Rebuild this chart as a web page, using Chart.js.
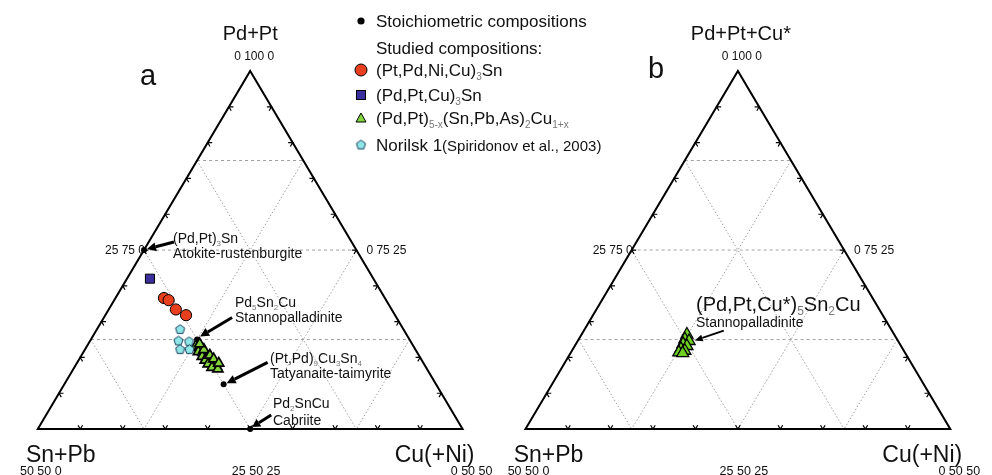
<!DOCTYPE html>
<html>
<head>
<meta charset="utf-8">
<script src="https://cdn.jsdelivr.net/npm/chart.js@4.4.1/dist/chart.umd.min.js"></script>
<style>
  html, body { margin: 0; padding: 0; background: #fff; }
  #wrap { position: relative; width: 992px; height: 475px; }
</style>
</head>
<body>
<div id="wrap"><canvas id="c" width="992" height="475"></canvas></div>
<script>
// Compositions in at.%, ordered [Sn+Pb, Pd+Pt, Cu(+Ni)]
// Diagram a: Pd+Pt vertex = 0 100 0, Sn+Pb vertex = 50 50 0, Cu vertex = 0 50 50

// stoichiometric compositions: (Pd,Pt)3Sn, Pd5Sn2Cu, (Pt,Pd)9Cu3Sn4, Pd2SnCu
const stoichA = [[25, 75, 0], [25, 62.5, 12.5], [25, 56.25, 18.75], [25, 50, 25]];
// (Pt,Pd,Ni,Cu)3Sn
const circlesA = [[26.0, 68.3, 5.7], [25.6, 68.0, 6.4], [25.4, 66.7, 7.9], [24.6, 65.9, 9.5]];
// (Pd,Pt,Cu)3Sn
const squaresA = [[26.3, 71.0, 2.7]];
// (Pd,Pt)5-x(Sn,Pb,As)2Cu1+x
const trianglesA = [
  [25.6, 61.6, 12.8], [25.3, 61.4, 13.3], [25.2, 61.1, 13.7], [25.7, 60.8, 13.5],
  [25.2, 60.7, 14.1], [25.1, 60.4, 14.5], [25.6, 60.2, 14.3], [25.1, 60.0, 14.9],
  [25.0, 59.8, 15.3], [25.5, 59.6, 14.9], [24.9, 59.5, 15.6], [24.8, 59.2, 16.0],
  [25.4, 59.1, 15.5], [24.7, 59.0, 16.4], [24.6, 58.7, 16.7], [25.2, 58.6, 16.2],
  [24.6, 58.4, 17.0], [24.9, 61.1, 14.0], [25.0, 61.9, 13.1], [24.6, 60.3, 15.1],
  [24.4, 59.8, 15.8], [24.1, 59.2, 16.7]
];
// Norilsk 1 (Spiridonov et al., 2003)
const norilskA = [[26.3, 63.9, 9.8], [27.3, 62.3, 10.4], [27.7, 61.1, 11.2], [26.1, 62.2, 11.7], [26.6, 61.1, 12.3]];

// Diagram b: Pd+Pt+Cu* recalculated
const stoichB = [[25, 62.5, 12.5]];
const trianglesB = [
  [24.4, 63.2, 12.4], [25.0, 62.6, 12.5], [24.6, 62.3, 13.1], [25.5, 61.9, 12.6],
  [25.2, 61.6, 13.2], [26.1, 61.2, 12.7], [25.8, 61.0, 13.3], [26.6, 60.7, 12.7],
  [26.2, 60.6, 13.2]
];

// vertex and mid-edge tick labels
const vertexLabels = { top: '0 100 0', left: '50 50 0', right: '0 50 50', bottom: '25 50 25', leftMid: '25 75 0', rightMid: '0 75 25' };

// ---- geometry helpers ----
const OFFSET_B = 496 / 432;          // horizontal shift of diagram b (in triangle base units)
const FAM = '"Liberation Sans", Arial, Helvetica, sans-serif';

// display fractions within the sub-triangle: s (Sn side), p (Pd apex), c (Cu side)
function frac(comp) {
  const t = comp[0] + comp[1] + comp[2];
  const sn = comp[0] / t * 100, pd = comp[1] / t * 100, cu = comp[2] / t * 100;
  return { s: sn / 50, p: (pd - 50) / 50, c: cu / 50 };
}
function toXY(comp, off) {
  const f = frac(comp);
  return { x: off + f.c + f.p / 2, y: f.p };
}
const pts = (arr, off) => arr.map(c => toXY(c, off));

// pentagon marker
function pentagon(r, fill, stroke) {
  const cv = document.createElement('canvas');
  const n = Math.ceil(r * 2 + 3);
  cv.width = n; cv.height = n;
  const g = cv.getContext('2d');
  g.beginPath();
  for (let i = 0; i < 5; i++) {
    const a = -Math.PI / 2 + i * 2 * Math.PI / 5;
    const px = n / 2 + r * Math.cos(a), py = n / 2 + r * Math.sin(a);
    i ? g.lineTo(px, py) : g.moveTo(px, py);
  }
  g.closePath();
  g.fillStyle = fill; g.fill();
  g.lineWidth = 1; g.strokeStyle = stroke; g.stroke();
  return cv;
}
const pentaImg = pentagon(4.8, '#8fe6e6', '#1d3f5e');

const RED = '#e8401f', BLUE = '#3a2f9c', GREEN = '#84d43c', GREEN_B = '#6fd022';

// rich text with subscripts; parts = [[text, isSub], ...]
function rich(ctx, x, y, parts, size, align) {
  const subSize = Math.round(size * 0.58);
  let w = 0;
  parts.forEach(([t, sub]) => { ctx.font = (sub ? subSize : size) + 'px ' + FAM; w += ctx.measureText(t).width; });
  let cx = align === 'center' ? x - w / 2 : x;
  ctx.textAlign = 'left';
  ctx.textBaseline = 'alphabetic';
  parts.forEach(([t, sub]) => {
    ctx.font = (sub ? subSize : size) + 'px ' + FAM;
    ctx.fillStyle = sub ? '#777' : '#111';
    ctx.fillText(t, cx, sub ? y + size * 0.22 : y);
    cx += ctx.measureText(t).width;
  });
}

function arrow(ctx, x1, y1, x2, y2, lw, hl, hw) {
  const ang = Math.atan2(y2 - y1, x2 - x1);
  const bx = x2 - hl * Math.cos(ang), by = y2 - hl * Math.sin(ang);
  ctx.save();
  ctx.strokeStyle = '#000'; ctx.fillStyle = '#000';
  ctx.lineWidth = lw; ctx.lineCap = 'butt';
  ctx.beginPath(); ctx.moveTo(x1, y1); ctx.lineTo(bx, by); ctx.stroke();
  ctx.beginPath();
  ctx.moveTo(x2, y2);
  ctx.lineTo(bx + hw * Math.sin(ang), by - hw * Math.cos(ang));
  ctx.lineTo(bx - hw * Math.sin(ang), by + hw * Math.cos(ang));
  ctx.closePath(); ctx.fill();
  ctx.restore();
}

// frame, grid, ticks and labels of the two ternary diagrams
const ternaryFrame = {
  id: 'ternaryFrame',
  beforeDatasetsDraw(chart) {
    const { ctx, scales: { x, y } } = chart;
    const P = (s, p, c, off) => ({ x: x.getPixelForValue(off + c + p / 2), y: y.getPixelForValue(p) });
    [0, OFFSET_B].forEach(off => {
      ctx.save();
      // dotted grid at 25 / 50 / 75 %
      ctx.strokeStyle = '#8a8a8a';
      ctx.lineWidth = 0.8;
      [0.25, 0.5, 0.75].forEach(k => {
        const segs = [
          [P(1 - k, k, 0, off), P(0, k, 1 - k, off), [3, 3]],
          [P(k, 1 - k, 0, off), P(k, 0, 1 - k, off), [1.5, 2]],
          [P(0, 1 - k, k, off), P(1 - k, 0, k, off), [1.5, 2]]
        ];
        segs.forEach(([a, b, d]) => {
          ctx.setLineDash(d);
          ctx.beginPath(); ctx.moveTo(a.x, a.y); ctx.lineTo(b.x, b.y); ctx.stroke();
        });
      });
      ctx.setLineDash([]);
      // triangle edges
      const A = P(0, 1, 0, off), L = P(1, 0, 0, off), R = P(0, 0, 1, off);
      ctx.strokeStyle = '#000'; ctx.lineWidth = 2; ctx.lineJoin = 'miter';
      ctx.beginPath(); ctx.moveTo(L.x, L.y); ctx.lineTo(A.x, A.y); ctx.lineTo(R.x, R.y); ctx.closePath(); ctx.stroke();
      // chevron ticks every 10 %
      const dir = (ds, dp, dc) => {
        const o = P(0, 0, 0, 0), t = P(ds, dp, dc, 0);
        const vx = t.x - o.x, vy = t.y - o.y, n = Math.hypot(vx, vy);
        return [vx / n, vy / n];
      };
      const tickLen = 4.5;
      ctx.lineWidth = 1.2;
      const chevron = (pt, d1, d2) => {
        ctx.beginPath();
        ctx.moveTo(pt.x + d1[0] * tickLen, pt.y + d1[1] * tickLen);
        ctx.lineTo(pt.x, pt.y);
        ctx.lineTo(pt.x + d2[0] * tickLen, pt.y + d2[1] * tickLen);
        ctx.stroke();
      };
      for (let i = 1; i <= 9; i++) {
        const t = i / 10;
        chevron(P(1 - t, 0, t, off), dir(0, 1, -1), dir(-1, 1, 0));   // base
        chevron(P(1 - t, t, 0, off), dir(-1, 0, 1), dir(0, -1, 1));   // left edge
        chevron(P(0, t, 1 - t, off), dir(1, 0, -1), dir(1, -1, 0));   // right edge
      }
      // numeric vertex labels
      ctx.fillStyle = '#111';
      ctx.font = '12px ' + FAM;
      ctx.textBaseline = 'middle';
      ctx.textAlign = 'center';
      ctx.fillText(vertexLabels.top, A.x + 4, A.y - 14);
      const Lm = P(0.5, 0.5, 0, off), Rm = P(0, 0.5, 0.5, off), Bm = P(0.5, 0, 0.5, off);
      ctx.textAlign = 'right';
      ctx.fillText(vertexLabels.leftMid, Lm.x + 1, Lm.y + 1);
      ctx.textAlign = 'left';
      ctx.fillText(vertexLabels.rightMid, Rm.x + 10, Rm.y + 1);
      ctx.font = '12.5px ' + FAM;
      ctx.textAlign = 'center'; ctx.textBaseline = 'top';
      ctx.fillText(vertexLabels.left, L.x + 3, 465);
      ctx.fillText(vertexLabels.bottom, Bm.x + 6, 465);
      ctx.fillText(vertexLabels.right, R.x + 9, 465);
      // component names
      ctx.font = '23px ' + FAM; ctx.textBaseline = 'alphabetic';
      ctx.fillText('Sn+Pb', L.x + 23, 462);
      ctx.fillText('Cu(+Ni)', R.x - 28, 462);
      ctx.restore();
    });
    // apex names and panel letters
    ctx.save();
    ctx.fillStyle = '#111';
    ctx.textAlign = 'center'; ctx.textBaseline = 'alphabetic';
    ctx.font = '20px ' + FAM;
    const Aa = P(0, 1, 0, 0), Ab = P(0, 1, 0, OFFSET_B);
    ctx.fillText('Pd+Pt', Aa.x, 40);
    ctx.fillText('Pd+Pt+Cu*', Ab.x + 3, 40);
    ctx.font = '29px ' + FAM;
    ctx.textAlign = 'left';
    ctx.fillText('a', 140, 85);
    ctx.fillText('b', 648, 78);
    ctx.restore();
  },
  afterDatasetsDraw(chart) {
    const { ctx, scales: { x, y } } = chart;
    const px = (comp, off) => { const q = toXY(comp, off); return { x: x.getPixelForValue(q.x), y: y.getPixelForValue(q.y) }; };
    ctx.save();
    // annotations, diagram a
    let p = px(stoichA[0], 0);
    arrow(ctx, p.x + 30, p.y - 8, p.x + 3, p.y - 1, 3, 9, 4.5);
    rich(ctx, 173, 243, [['(Pd,Pt)'], ['3', 1], ['Sn']], 14);
    rich(ctx, 173, 258, [['Atokite-rustenburgite']], 14);

    p = px(stoichA[1], 0);
    arrow(ctx, p.x + 35, p.y - 22, p.x + 3, p.y - 3, 3, 9, 4.5);
    rich(ctx, 235, 307, [['Pd'], ['5', 1], ['Sn'], ['2', 1], ['Cu']], 14);
    rich(ctx, 235, 322, [['Stannopalladinite']], 14);

    p = px(stoichA[2], 0);
    arrow(ctx, p.x + 44, p.y - 22, p.x + 3, p.y - 1, 3, 9, 4.5);
    rich(ctx, 270, 363, [['(Pt,Pd)'], ['9', 1], ['Cu'], ['3', 1], ['Sn'], ['4', 1]], 14);
    rich(ctx, 270, 378, [['Tatyanaite-taimyrite']], 14);

    p = px(stoichA[3], 0);
    arrow(ctx, p.x + 21, p.y - 14, p.x + 2, p.y - 2, 3, 8, 4.5);
    rich(ctx, 273, 408, [['Pd'], ['2', 1], ['SnCu']], 14);
    rich(ctx, 273, 425, [['Cabriite']], 14);

    // annotation, diagram b
    p = px(stoichB[0], OFFSET_B);
    arrow(ctx, p.x + 39, p.y - 9, p.x + 10, p.y + 1, 1.8, 8, 3.5);
    rich(ctx, 696, 311, [['(Pd,Pt,Cu*)'], ['5', 1], ['Sn'], ['2', 1], ['Cu']], 20);
    rich(ctx, 696, 327, [['Stannopalladinite']], 14);

    // legend
    const lx = 361, tx = 376;
    ctx.fillStyle = '#000';
    ctx.beginPath(); ctx.arc(lx, 21, 3.6, 0, Math.PI * 2); ctx.fill();
    rich(ctx, tx, 27, [['Stoichiometric compositions']], 17);
    rich(ctx, tx, 54, [['Studied compositions:']], 17);
    ctx.beginPath(); ctx.arc(lx, 70, 6, 0, Math.PI * 2);
    ctx.fillStyle = RED; ctx.fill(); ctx.lineWidth = 1; ctx.strokeStyle = '#000'; ctx.stroke();
    rich(ctx, tx, 76, [['(Pt,Pd,Ni,Cu)'], ['3', 1], ['Sn']], 17);
    ctx.fillStyle = BLUE; ctx.fillRect(lx - 4.5, 95 - 4.5, 9, 9); ctx.strokeRect(lx - 4.5, 95 - 4.5, 9, 9);
    rich(ctx, tx, 101, [['(Pd,Pt,Cu)'], ['3', 1], ['Sn']], 17);
    ctx.beginPath(); ctx.moveTo(lx, 113); ctx.lineTo(lx + 5, 122); ctx.lineTo(lx - 5, 122); ctx.closePath();
    ctx.fillStyle = GREEN; ctx.fill(); ctx.stroke();
    rich(ctx, tx, 124, [['(Pd,Pt)'], ['5-x', 1], ['(Sn,Pb,As)'], ['2', 1], ['Cu'], ['1+x', 1]], 17);
    ctx.drawImage(pentaImg, lx - pentaImg.width / 2, 145 - pentaImg.height / 2);
    rich(ctx, tx, 151, [['Norilsk 1']], 17);
    ctx.font = '17px ' + FAM;
    const w1 = ctx.measureText('Norilsk 1').width;
    rich(ctx, tx + w1, 151, [['(Spiridonov et al., 2003)']], 15);
    ctx.restore();
  }
};

const mk = (data, style, radius, bg, border, bw) => ({
  data, pointStyle: style, pointRadius: radius, backgroundColor: bg,
  borderColor: border, borderWidth: bw, showLine: false, clip: false
});

new Chart(document.getElementById('c'), {
  type: 'scatter',
  data: {
    datasets: [
      mk(pts(circlesA, 0), 'circle', 5.6, RED, '#000', 1),
      mk(pts(squaresA, 0), 'rect', 6.4, BLUE, '#000', 1),
      mk(pts(norilskA, 0), pentaImg, 5, '#8fe6e6', '#1d3f5e', 1),
      mk(pts(trianglesA, 0), 'triangle', 5.8, GREEN, '#000', 1.7),
      mk(pts(trianglesB, OFFSET_B), 'triangle', 7, GREEN_B, '#000', 1.3),
      mk(pts(stoichA, 0), 'circle', 3, '#000', '#000', 0),
      mk(pts(stoichB, OFFSET_B), 'circle', 2, '#000', '#000', 0)
    ]
  },
  options: {
    responsive: false,
    animation: false,
    devicePixelRatio: 1,
    events: [],
    layout: { padding: 0 },
    plugins: { legend: { display: false }, tooltip: { enabled: false }, title: { display: false } },
    scales: {
      x: { type: 'linear', display: false, min: -30 / 432, max: 962 / 432 },
      y: { type: 'linear', display: false, min: -39 / 371, max: 436 / 371 }
    }
  },
  plugins: [ternaryFrame]
});
</script>
</body>
</html>
